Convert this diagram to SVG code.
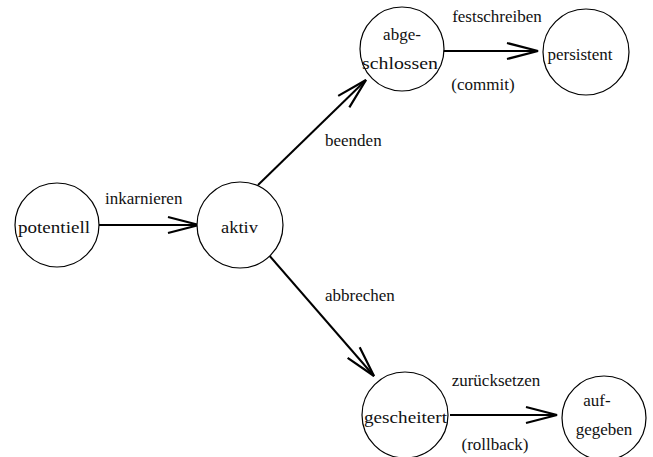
<svg xmlns="http://www.w3.org/2000/svg" width="653" height="457" viewBox="0 0 653 457" font-family="'Liberation Serif', 'Times New Roman', Times, serif">
<style>
.node circle{fill:#fff;stroke:#000;stroke-width:1.2}
text{font-family:'Liberation Serif','Times New Roman',Times,serif;font-size:17px;fill:#111}
.c{text-anchor:middle}
.edge{stroke:#000;stroke-width:2;fill:none}
</style>
<defs>
<marker id="ah" markerUnits="userSpaceOnUse" markerWidth="40" markerHeight="24" viewBox="-34 -12 40 24" refX="0" refY="0" orient="auto" overflow="visible">
<path d="M-31,-8 L0,0 L-31,8" fill="none" stroke="#000" stroke-width="2.2"/>
</marker>
</defs>
<rect width="653" height="457" fill="#fff"/>
<g id="connectors">
<line class="edge" x1="99" y1="225" x2="199" y2="225" marker-end="url(#ah)"/>
<line class="edge" x1="258" y1="185" x2="366" y2="80" marker-end="url(#ah)"/>
<line class="edge" x1="268" y1="254" x2="374" y2="376" marker-end="url(#ah)"/>
<line class="edge" x1="443" y1="51" x2="538" y2="51" marker-end="url(#ah)"/>
<line class="edge" x1="450" y1="415" x2="557" y2="415" marker-end="url(#ah)"/>
<text x="105" y="204">inkarnieren</text>
<text x="325" y="146">beenden</text>
<text x="325" y="301">abbrechen</text>
<text class="c" x="497" y="22">festschreiben</text>
<text class="c" x="483" y="90">(commit)</text>
<text class="c" x="496" y="386">zurücksetzen</text>
<text class="c" x="495" y="450">(rollback)</text>
</g>
<g id="potentiell" class="node">
<circle cx="57" cy="225" r="42"/>
<text x="18" y="233" textLength="72" lengthAdjust="spacingAndGlyphs">potentiell</text>
</g>
<g id="aktiv" class="node">
<circle cx="240" cy="225" r="43"/>
<text x="221" y="233" textLength="37" lengthAdjust="spacingAndGlyphs">aktiv</text>
</g>
<g id="abgeschlossen" class="node">
<circle cx="402" cy="49" r="42"/>
<text class="c" x="402" y="40">abge-</text>
<text x="362" y="69" textLength="76" lengthAdjust="spacingAndGlyphs">schlossen</text>
</g>
<g id="persistent" class="node">
<circle cx="586" cy="52" r="43"/>
<text class="c" x="580" y="60">persistent</text>
</g>
<g id="gescheitert" class="node">
<circle cx="405" cy="415" r="43"/>
<text x="364" y="423" textLength="83" lengthAdjust="spacingAndGlyphs">gescheitert</text>
</g>
<g id="aufgegeben" class="node">
<circle cx="604" cy="418" r="42"/>
<text class="c" x="597" y="406">auf-</text>
<text class="c" x="604" y="435">gegeben</text>
</g>
</svg>
